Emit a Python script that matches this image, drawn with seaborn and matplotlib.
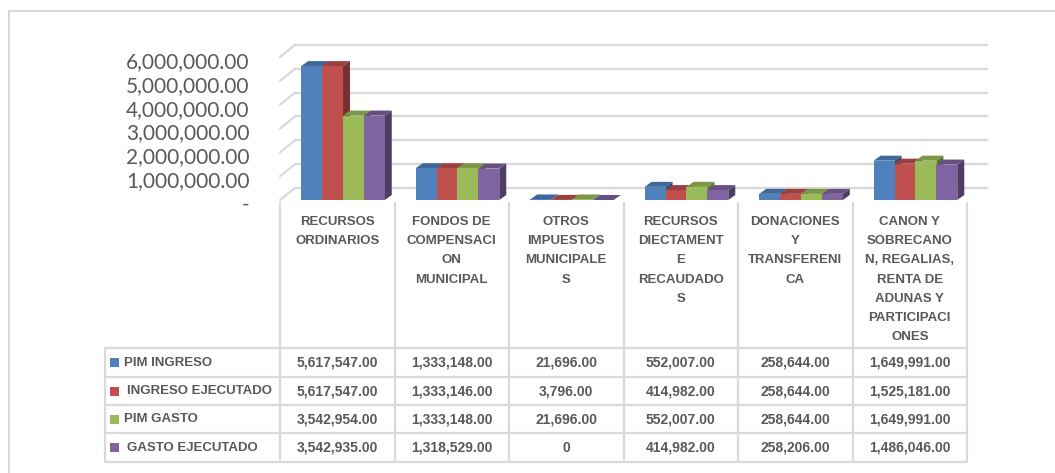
import pandas as pd
import matplotlib.pyplot as plt
import matplotlib.transforms as mtransforms
from matplotlib.patches import Polygon, Rectangle
import numpy as np
import seaborn as sns

categorias = [
    "RECURSOS\nORDINARIOS",
    "FONDOS DE\nCOMPENSACI\nON\nMUNICIPAL",
    "OTROS\nIMPUESTOS\nMUNICIPALE\nS",
    "RECURSOS\nDIECTAMENT\nE\nRECAUDADO\nS",
    "DONACIONES\nY\nTRANSFERENI\nCA",
    "CANON Y\nSOBRECANO\nN, REGALIAS,\nRENTA DE\nADUNAS Y\nPARTICIPACI\nONES",
]
series = ["PIM INGRESO", "INGRESO EJECUTADO", "PIM GASTO", "GASTO EJECUTADO"]
pim_ingreso = [5617547, 1333148, 21696, 552007, 258644, 1649991]
ingreso_ejecutado = [5617547, 1333146, 3796, 414982, 258644, 1525181]
pim_gasto = [3542954, 1333148, 21696, 552007, 258644, 1649991]
gasto_ejecutado = [3542935, 1318529, 0, 414982, 258206, 1486046]
y_ticks = [0, 1000000, 2000000, 3000000, 4000000, 5000000, 6000000]
colores = ["#4F81BD", "#C0504D", "#9BBB59", "#8064A2"]

valores = [pim_ingreso, ingreso_ejecutado, pim_gasto, gasto_ejecutado]
df = pd.DataFrame(
    [(c, s, v) for s, vals in zip(series, valores) for c, v in zip(categorias, vals)],
    columns=["categoria", "serie", "valor"],
)

W, H = 1055, 473
sns.set_theme(style="white")
plt.rcParams["font.family"] = ["Lato", "DejaVu Sans"]
gris = "#595959"
linea = "#d9d9d9"
fuente_tabla = ["Liberation Sans", "DejaVu Sans"]

fig = plt.figure(figsize=(W / 100, H / 100), dpi=100)
fig.patch.set_facecolor("white")

# plot area (front face of the 3D box)
x_left, x_right, y_base, y_top = 280, 967, 200, 57
ax = fig.add_axes([x_left / W, (H - y_base) / H, (x_right - x_left) / W, (y_base - y_top) / H])
ax.patch.set_alpha(0)

sns.barplot(
    data=df, x="categoria", y="valor", hue="serie", hue_order=series,
    order=categorias, palette=colores, width=0.73, saturation=1,
    errorbar=None, linewidth=0, legend=False, ax=ax, zorder=2,
)
ax.set_xlim(-0.55, 5.45)
ax.set_ylim(0, 6000000)
for s in ax.spines.values():
    s.set_visible(False)
ax.set_xticks([])
ax.set_xlabel("")
ax.set_ylabel("")
ax.set_yticks(y_ticks)
ax.set_yticklabels(["-" if t == 0 else f"{t:,.2f}" for t in y_ticks], fontsize=15, color=gris)
ax.tick_params(axis="y", length=0, pad=22)
bajar = mtransforms.ScaledTranslation(0, -3 / 100, fig.dpi_scale_trans)
for lab in ax.get_yticklabels():
    lab.set_transform(lab.get_transform() + bajar)

# back wall gridlines + side wall stubs
dx_w, dy_w = 15, 12
back = mtransforms.offset_copy(ax.get_yaxis_transform(), fig=fig, x=dx_w, y=dy_w, units="dots")
for t in y_ticks:
    ax.plot([0, 1.007], [t, t], color=linea, lw=1.6, transform=back, clip_on=False, zorder=0.5)
    px, py = ax.get_yaxis_transform().transform((0, t))
    ax.plot([px, px + dx_w], [py, py + dy_w], color=linea, lw=1.6,
            transform=mtransforms.IdentityTransform(), clip_on=False, zorder=0.5)

# pseudo 3D faces derived from the bars seaborn drew
def oscurecer(c, f):
    r, g, b = plt.matplotlib.colors.to_rgb(c)
    return (r * f, g * f, b * f)

dx, dy = 7, 5
bars = sorted(ax.patches, key=lambda p: p.get_x())
for p in bars:
    x0, w, h = p.get_x(), p.get_width(), p.get_height()
    c = p.get_facecolor()
    (a0, b0) = ax.transData.transform((x0, 0))
    (a1, b1) = ax.transData.transform((x0 + w, h))
    side = Polygon([(a1, b0), (a1, b1), (a1 + dx, b1 + dy), (a1 + dx, b0 + dy)],
                   closed=True, facecolor=oscurecer(c, 0.62), edgecolor="none",
                   transform=mtransforms.IdentityTransform(), clip_on=False, zorder=1)
    top = Polygon([(a0, b1), (a1, b1), (a1 + dx, b1 + dy), (a0 + dx, b1 + dy)],
                  closed=True, facecolor=oscurecer(c, 0.8), edgecolor="none",
                  transform=mtransforms.IdentityTransform(), clip_on=False, zorder=1)
    ax.add_artist(side)
    ax.add_artist(top)

# data table in pixel coordinates
tab = fig.add_axes([0, 0, 1, 1])
tab.set_xlim(0, W)
tab.set_ylim(H, 0)
tab.axis("off")

# outer chart frame
tab.plot([9, W], [11, 11], color=linea, lw=1.5)
tab.plot([9, 9], [11, H], color=linea, lw=1.5)

col_w = (x_right - x_left) / len(categorias)
edges = [x_left + i * col_w for i in range(len(categorias) + 1)]
rows = [348, 377, 405, 433, 462]
tab_left = 105
for e in edges:
    tab.plot([e, e], [203, rows[-1]], color=linea, lw=1.6)
tab.plot([tab_left, tab_left], [rows[0], rows[-1]], color=linea, lw=1.6)
for r in rows:
    tab.plot([tab_left, x_right], [r, r], color=linea, lw=1.6)

for i, cat in enumerate(categorias):
    cx = (edges[i] + edges[i + 1]) / 2
    tab.text(cx, 216, cat, ha="center", va="top", fontsize=9.5, fontweight="bold",
             color=gris, linespacing=1.8, family=fuente_tabla)

for j, (s, vals) in enumerate(zip(series, valores)):
    cy = (rows[j] + rows[j + 1]) / 2
    ejec = "EJECUTADO" in s
    tab.add_patch(Rectangle((110, cy - 4.5), 9, 9, facecolor=colores[j], edgecolor="none"))
    tab.text(124 if not ejec else 127, cy, s, ha="left", va="center", fontsize=9.5,
             fontweight="bold", color=gris, family=fuente_tabla)
    for i, v in enumerate(vals):
        cx = (edges[i] + edges[i + 1]) / 2
        txt = "0" if v == 0 else f"{v:,.2f}"
        tab.text(cx, cy, txt, ha="center", va="center", fontsize=10,
                 fontweight="bold", color=gris, family=fuente_tabla)

fig.savefig("out.png", dpi=100)
